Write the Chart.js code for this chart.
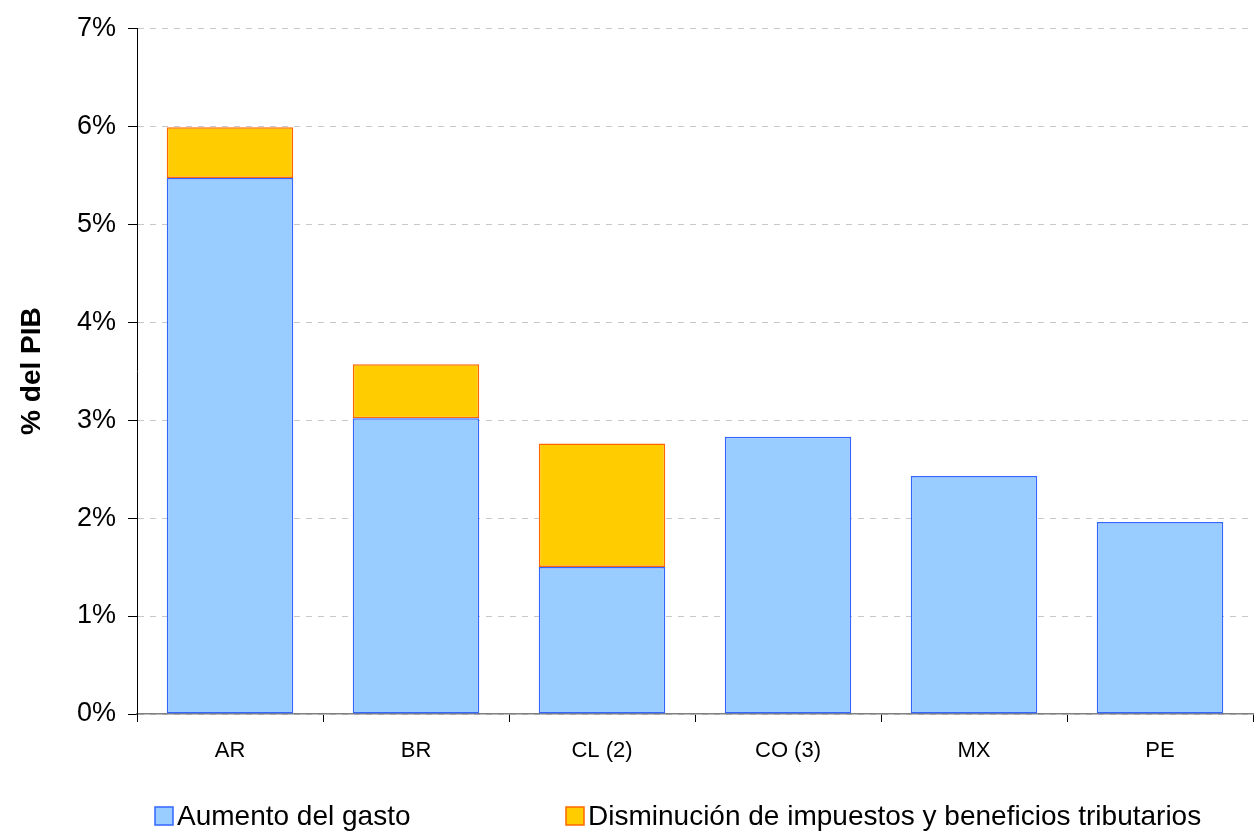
<!DOCTYPE html>
<html>
<head>
<meta charset="utf-8">
<script src="https://cdn.jsdelivr.net/npm/chart.js@4.4.0/dist/chart.umd.min.js"></script>
<style>
  html, body { margin: 0; padding: 0; background: #fff; }
  #wrap { width: 1257px; height: 832px; }
</style>
</head>
<body>
<div id="wrap"><canvas id="myChart" width="1257" height="832"></canvas></div>
<script>
// Data
const countries = ['AR', 'BR', 'CL (2)', 'CO (3)', 'MX', 'PE'];
const gasto = [5.47, 3.02, 1.50, 2.83, 2.43, 1.96];
const impuestos = [0.52, 0.55, 1.26, null, null, null];
const seriesNames = ['Aumento del gasto', 'Disminución de impuestos y beneficios tributarios'];
const yTicks = [0, 1, 2, 3, 4, 5, 6, 7];

const fontFamily = '"Liberation Sans", Arial, sans-serif';
Chart.defaults.font.family = fontFamily;
Chart.defaults.color = '#000';

// Legend drawn below the chart, items spread like the original Excel legend
const bottomLegend = {
    id: 'bottomLegend',
    afterDraw(chart) {
        const c = chart.ctx;
        const itemX = [155, 566];
        const y = 816;
        const box = 18;
        c.save();
        c.font = '28px ' + fontFamily;
        c.textBaseline = 'middle';
        c.textAlign = 'left';
        chart.data.datasets.forEach((ds, i) => {
            const x = itemX[i];
            c.fillStyle = ds.backgroundColor;
            c.fillRect(x, y - box / 2, box, box);
            c.strokeStyle = ds.borderColor;
            c.lineWidth = 1.5;
            c.strokeRect(x, y - box / 2, box, box);
            c.fillStyle = '#000';
            c.fillText(ds.label, x + box + 4, y + 1);
        });
        c.restore();
    }
};

const ctx = document.getElementById('myChart').getContext('2d');

const myChart = new Chart(ctx, {
    type: 'bar',
    data: {
        labels: countries,
        datasets: [
            {
                label: seriesNames[0],
                data: gasto,
                backgroundColor: '#99CCFF',
                borderColor: '#3366FF',
                borderWidth: 1.5,
                borderSkipped: false,
                categoryPercentage: 0.68,
                barPercentage: 1.0
            },
            {
                label: seriesNames[1],
                data: impuestos,
                backgroundColor: '#FFCC00',
                borderColor: '#FF6600',
                borderWidth: 1.5,
                borderSkipped: false,
                categoryPercentage: 0.68,
                barPercentage: 1.0
            }
        ]
    },
    options: {
        responsive: false,
        animation: false,
        layout: {
            padding: { top: 27, right: 4, left: 0, bottom: 0 }
        },
        scales: {
            x: {
                stacked: true,
                grid: {
                    display: true,
                    drawOnChartArea: false,
                    offset: true,
                    tickLength: 8,
                    tickColor: '#000'
                },
                border: { color: '#808080', width: 1.5 },
                ticks: {
                    font: { size: 22 },
                    padding: 16
                },
                afterFit: function(scale) {
                    scale.height = 118;
                }
            },
            y: {
                stacked: true,
                min: 0,
                max: 7,
                afterBuildTicks: function(scale) {
                    scale.ticks = yTicks.map(v => ({ value: v }));
                },
                grid: {
                    color: '#c8c8c8',
                    tickColor: '#000',
                    tickLength: 9
                },
                border: { color: '#000', width: 1, dash: [6, 6], display: true },
                ticks: {
                    font: { size: 27 },
                    padding: 12,
                    callback: function(value) {
                        return value + '%';
                    }
                },
                title: {
                    display: true,
                    text: '% del PIB',
                    font: { size: 28, weight: 'bold' },
                    padding: { top: 15, bottom: 0 }
                },
                afterFit: function(scale) {
                    scale.width = 137;
                }
            }
        },
        plugins: {
            legend: { display: false },
            tooltip: { enabled: false }
        }
    },
    plugins: [bottomLegend]
});
</script>
</body>
</html>
